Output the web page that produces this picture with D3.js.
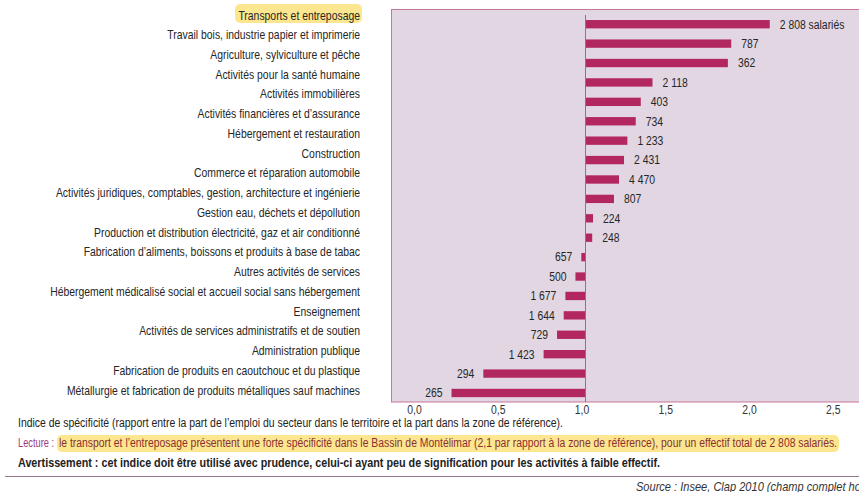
<!DOCTYPE html>
<html>
<head>
<meta charset="utf-8">
<script src="https://cdn.jsdelivr.net/npm/d3@7"></script>
<style>
  body { margin: 0; background: #fff; }
  svg { display: block; font-family: "Liberation Sans", Arial, sans-serif; }
</style>
</head>
<body>
<div id="chart"></div>
<script>
// secteurs, du plus spécifique au moins spécifique
const sectors = [
    "Transports et entreposage",
    "Travail bois, industrie papier et imprimerie",
    "Agriculture, sylviculture et pêche",
    "Activités pour la santé humaine",
    "Activités immobilières",
    "Activités financières et d’assurance",
    "Hébergement et restauration",
    "Construction",
    "Commerce et réparation automobile",
    "Activités juridiques, comptables, gestion,  architecture et ingénierie",
    "Gestion eau, déchets et dépollution",
    "Production et distribution électricité, gaz et air conditionné",
    "Fabrication d’aliments, boissons et produits à base de tabac",
    "Autres activités de services",
    "Hébergement médicalisé social et accueil social sans hébergement",
    "Enseignement",
    "Activités de services administratifs et de soutien",
    "Administration publique",
    "Fabrication  de produits en caoutchouc et du plastique",
    "Métallurgie et fabrication de produits métalliques sauf machines"
];
// indice de spécificité
const specificity = [2.10, 1.87, 1.85, 1.40, 1.33, 1.30, 1.25, 1.23, 1.20, 1.17,
    1.045, 1.04, 0.975, 0.94, 0.88, 0.87, 0.83, 0.75, 0.39, 0.20];
// effectifs salariés
const employees = ["2 808 salariés", "787", "362", "2 118", "403", "734", "1 233", "2 431", "4 470", "807",
    "224", "248", "657", "500", "1 677", "1 644", "729", "1 423", "294", "265"];
const xTicks = [0, 0.5, 1, 1.5, 2, 2.5];

const W = 859, H = 492;
const svg = d3.select("#chart").append("svg")
    .attr("width", W)
    .attr("height", H);

// pas de police étroite installée : on resserre le texte
function condense(sel, k) {
    sel.each(function () {
        const len = this.getComputedTextLength();
        d3.select(this).attr("textLength", len * k).attr("lengthAdjust", "spacingAndGlyphs");
    });
}
function fit(sel, len) {
    sel.attr("textLength", len).attr("lengthAdjust", "spacingAndGlyphs");
}

const x = d3.scaleLinear().domain([0, 2.5]).range([418, 836.75]);
const y = d3.scaleBand().domain(sectors).range([14.6, 402.6]).paddingInner(0.57).paddingOuter(0.28);
const yLabel = d3.scalePoint().domain(sectors).range([15, 390]);

// fond du graphique
svg.append("rect")
    .attr("x", 391.5).attr("y", 9.5)
    .attr("width", 480).attr("height", 392.5)
    .attr("fill", "#e1d6e2")
    .attr("stroke", "#c7779a");

// surlignage du premier secteur
svg.append("rect")
    .attr("x", 235).attr("y", 4)
    .attr("width", 127).attr("height", 19).attr("rx", 5)
    .attr("fill", "#fce68f");

svg.append("g")
    .attr("font-size", 13)
    .attr("fill", "#262626")
    .attr("text-anchor", "end")
    .selectAll("text")
    .data(sectors)
    .join("text")
        .attr("x", 360)
        .attr("y", (d) => yLabel(d))
        .attr("dy", "0.35em")
        .text((d) => d)
        .call(condense, 0.8);

// barres autour de 1
svg.append("g")
    .attr("fill", "#b32760")
    .selectAll("rect")
    .data(sectors)
    .join("rect")
        .attr("x", (d, i) => x(Math.min(1, specificity[i])))
        .attr("y", (d) => y(d))
        .attr("width", (d, i) => Math.abs(x(specificity[i]) - x(1)))
        .attr("height", y.bandwidth());

svg.append("line")
    .attr("x1", x(1)).attr("x2", x(1))
    .attr("y1", 15).attr("y2", 402)
    .attr("stroke", "#b5607f");

svg.append("g")
    .attr("font-size", 12.5)
    .attr("fill", "#262626")
    .selectAll("text")
    .data(sectors)
    .join("text")
        .attr("x", (d, i) => specificity[i] >= 1 ? x(specificity[i]) + 10 : x(specificity[i]) - 9)
        .attr("y", (d) => y(d) + y.bandwidth() / 2)
        .attr("dy", "0.35em")
        .attr("text-anchor", (d, i) => specificity[i] >= 1 ? "start" : "end")
        .text((d, i) => employees[i])
        .call(condense, 0.83);

// axe des abscisses
svg.append("g")
    .attr("transform", "translate(0,402)")
    .call(d3.axisBottom(x).tickValues(xTicks).tickSize(0).tickPadding(3)
        .tickFormat((d) => d3.format(".1f")(d).replace(".", ",")))
    .call((g) => g.select(".domain").remove())
    .call((g) => g.selectAll("text")
        .attr("dx", -4)
        .attr("font-size", 12.5)
        .attr("font-family", "Liberation Sans, sans-serif")
        .attr("fill", "#333")
        .call(condense, 0.83));

// notes sous le graphique
const notes = svg.append("g").attr("font-size", 12.5).attr("fill", "#222");
notes.append("text")
    .attr("x", 18).attr("y", 427)
    .text("Indice de spécificité (rapport entre la part de l’emploi du secteur dans le territoire et la part dans la zone de référence).")
    .call(fit, 545);

notes.append("rect")
    .attr("x", 57).attr("y", 435)
    .attr("width", 782).attr("height", 17).attr("rx", 5)
    .attr("fill", "#fce68f");
notes.append("text")
    .attr("x", 18).attr("y", 447)
    .attr("fill", "#9b3b86")
    .text("Lecture :")
    .call(fit, 36);
notes.append("text")
    .attr("x", 59).attr("y", 447)
    .attr("fill", "#8a2f2f")
    .text("le transport et l’entreposage présentent une forte spécificité dans le Bassin de Montélimar (2,1 par rapport à la zone de référence), pour un effectif total de 2 808 salariés.")
    .call(fit, 778);

notes.append("text")
    .attr("x", 18).attr("y", 467)
    .attr("font-weight", "bold")
    .attr("font-size", 12.5)
    .text("Avertissement : cet indice doit être utilisé avec prudence, celui-ci ayant peu de signification pour les activités à faible effectif.")
    .call(fit, 642);

svg.append("line")
    .attr("x1", 5).attr("x2", W)
    .attr("y1", 476.5).attr("y2", 476.5)
    .attr("stroke", "#9a7890");

svg.append("text")
    .attr("x", 636).attr("y", 491)
    .attr("font-size", 13)
    .attr("font-style", "italic")
    .attr("fill", "#333")
    .text("Source : Insee, Clap 2010 (champ complet hors défense)")
    .call(condense, 0.85);
</script>
</body>
</html>
